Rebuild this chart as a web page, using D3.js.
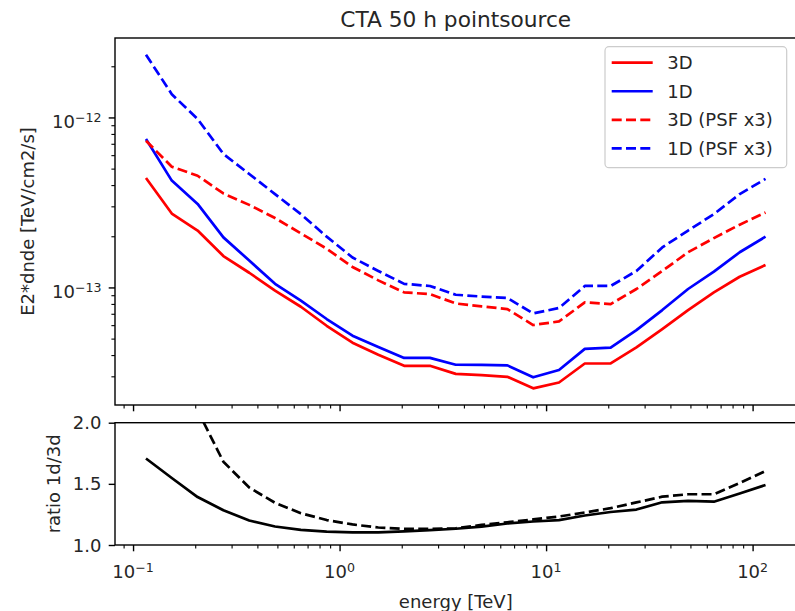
<!DOCTYPE html>
<html>
<head>
<meta charset="utf-8">
<script src="https://cdn.jsdelivr.net/npm/d3@7"></script>
<style>
  body { margin: 0; background: #fff; }
  svg { display: block; font-family: "DejaVu Sans", sans-serif; }
</style>
</head>
<body>
<svg id="chart" width="795" height="611"></svg>
<script>
// Energy bin centres [TeV]
const energy = [0.1155, 0.1540, 0.2054, 0.2738, 0.3652, 0.4870, 0.6494, 0.8660,
  1.155, 1.540, 2.054, 2.738, 3.652, 4.870, 6.494, 8.660,
  11.55, 15.40, 20.54, 27.38, 36.52, 48.70, 64.94, 86.60, 115.5];

// Sensitivity curves, E2*dnde [TeV/cm2/s]
const sens3d = [4.40e-13, 2.72e-13, 2.16e-13, 1.53e-13, 1.22e-13, 9.57e-14, 7.70e-14, 5.95e-14,
  4.73e-14, 4.02e-14, 3.46e-14, 3.46e-14, 3.10e-14, 3.05e-14, 2.98e-14, 2.55e-14,
  2.76e-14, 3.57e-14, 3.57e-14, 4.44e-14, 5.69e-14, 7.36e-14, 9.35e-14, 1.156e-13, 1.355e-13];
const sens1d = [7.46e-13, 4.25e-13, 3.10e-13, 1.97e-13, 1.44e-13, 1.05e-13, 8.36e-14, 6.52e-14,
  5.20e-14, 4.46e-14, 3.85e-14, 3.85e-14, 3.51e-14, 3.50e-14, 3.48e-14, 2.96e-14,
  3.27e-14, 4.35e-14, 4.43e-14, 5.61e-14, 7.36e-14, 9.79e-14, 1.24e-13, 1.61e-13, 1.99e-13];
const sens3dPsf = [7.30e-13, 5.13e-13, 4.54e-13, 3.57e-13, 3.06e-13, 2.56e-13, 2.08e-13, 1.69e-13,
  1.32e-13, 1.10e-13, 9.35e-14, 9.14e-14, 8.05e-14, 7.73e-14, 7.46e-14, 6.01e-14,
  6.31e-14, 8.17e-14, 7.98e-14, 9.79e-14, 1.25e-13, 1.61e-13, 1.95e-13, 2.34e-13, 2.76e-13];
const sens1dPsf = [2.34e-12, 1.37e-12, 9.79e-13, 6.10e-13, 4.65e-13, 3.54e-13, 2.70e-13, 1.99e-13,
  1.50e-13, 1.25e-13, 1.05e-13, 1.02e-13, 9.06e-14, 8.84e-14, 8.67e-14, 7.03e-14,
  7.57e-14, 1.02e-13, 1.02e-13, 1.25e-13, 1.72e-13, 2.16e-13, 2.70e-13, 3.54e-13, 4.35e-13];

// Ratio 1d/3d
const ratio = [1.707, 1.548, 1.392, 1.284, 1.200, 1.151, 1.124, 1.110,
  1.104, 1.104, 1.112, 1.122, 1.133, 1.150, 1.176, 1.192,
  1.204, 1.241, 1.270, 1.290, 1.349, 1.360, 1.354, 1.421, 1.491];
const ratioPsf = [3.20, 2.67, 2.10, 1.681, 1.470, 1.345, 1.260, 1.204,
  1.168, 1.143, 1.132, 1.131, 1.137, 1.164, 1.186, 1.209,
  1.233, 1.266, 1.301, 1.348, 1.395, 1.415, 1.415, 1.507, 1.605];

// Axis ticks
const xMajor = [0.1, 1, 10, 100];
const xMajorExp = [-1, 0, 1, 2];
const yMajor = [1e-12, 1e-13];
const yMajorExp = [-12, -13];
const ratioTicks = [1.0, 1.5, 2.0];
const ratioTickLabels = ["1.0", "1.5", "2.0"];

const titleText = "CTA 50 h pointsource";
const seriesNames = ["3D", "1D", "3D (PSF x3)", "1D (PSF x3)"];

// ---- layout ----
const svg = d3.select("#chart");
const L = 115, R = 796.5;
const top1 = 38, bot1 = 405;
const top2 = 422.7, bot2 = 545;
const FS = 18;

// log-space autoscale with 5% margins
function logPad(vals) {
  const lo = Math.log10(d3.min(vals)), hi = Math.log10(d3.max(vals));
  const m = (hi - lo) * 0.05;
  return [Math.pow(10, lo - m), Math.pow(10, hi + m)];
}

const x = d3.scaleLog().domain(logPad(energy)).range([L, R]);
const y1 = d3.scaleLog()
  .domain(logPad([].concat(sens3d, sens1d, sens3dPsf, sens1dPsf)))
  .range([bot1, top1]);
const y2 = d3.scaleLinear().domain([1, 2]).range([bot2, top2]);

// minor ticks: 2..9 of each decade inside the domain
function minorLog(scale) {
  const [a, b] = scale.domain();
  const out = [];
  for (let e = Math.floor(Math.log10(Math.min(a, b))) - 1; e <= Math.ceil(Math.log10(Math.max(a, b))); e++) {
    for (let k = 2; k <= 9; k++) {
      const v = k * Math.pow(10, e);
      if (v >= Math.min(a, b) && v <= Math.max(a, b)) out.push(v);
    }
  }
  return out;
}

const defs = svg.append("defs");
defs.append("clipPath").attr("id", "clip1").append("rect")
  .attr("x", L).attr("y", top1).attr("width", R - L).attr("height", bot1 - top1);
defs.append("clipPath").attr("id", "clip2").append("rect")
  .attr("x", L).attr("y", top2).attr("width", R - L).attr("height", bot2 - top2);

function tickAxis(g, axis) {
  g.call(axis);
  g.select(".domain").remove();
  g.selectAll(".tick line").attr("stroke", "#000");
}

// x ticks for both panels
[bot1, bot2].forEach(yy => {
  const gMin = svg.append("g").attr("transform", `translate(0,${yy})`);
  tickAxis(gMin, d3.axisBottom(x).tickValues(minorLog(x)).tickSize(3.6).tickFormat(""));
  gMin.selectAll(".tick line").attr("stroke-width", 1.1);
  const gMaj = svg.append("g").attr("transform", `translate(0,${yy})`);
  tickAxis(gMaj, d3.axisBottom(x).tickValues(xMajor).tickSize(6.3).tickFormat(""));
  gMaj.selectAll(".tick line").attr("stroke-width", 1.4);
});

// y ticks top panel
{
  const gMin = svg.append("g").attr("transform", `translate(${L},0)`);
  tickAxis(gMin, d3.axisLeft(y1).tickValues(minorLog(y1)).tickSize(3.6).tickFormat(""));
  gMin.selectAll(".tick line").attr("stroke-width", 1.1);
  const gMaj = svg.append("g").attr("transform", `translate(${L},0)`);
  tickAxis(gMaj, d3.axisLeft(y1).tickValues(yMajor).tickSize(6.3).tickFormat(""));
  gMaj.selectAll(".tick line").attr("stroke-width", 1.4);
}
// y ticks bottom panel
{
  const g = svg.append("g").attr("transform", `translate(${L},0)`);
  tickAxis(g, d3.axisLeft(y2).tickValues(ratioTicks).tickSize(6.3).tickFormat(""));
  g.selectAll(".tick line").attr("stroke-width", 1.4);
}

// power-of-ten labels
function powLabel(sel, exp) {
  sel.append("tspan").text("10");
  sel.append("tspan").attr("dy", -6.5).attr("font-size", 12.6)
    .text(exp < 0 ? "\u2212" + (-exp) : String(exp));
}

xMajor.forEach((v, i) => {
  const t = svg.append("text").attr("x", x(v)).attr("y", 578)
    .attr("text-anchor", "middle").attr("font-size", FS).attr("fill", "#262626");
  powLabel(t, xMajorExp[i]);
});
yMajor.forEach((v, i) => {
  const t = svg.append("text").attr("x", 101.5).attr("y", y1(v) + 11)
    .attr("text-anchor", "end").attr("font-size", FS).attr("fill", "#262626");
  powLabel(t, yMajorExp[i]);
});
ratioTicks.forEach((v, i) => {
  svg.append("text").attr("x", 101.5).attr("y", y2(v) + 6.5)
    .attr("text-anchor", "end").attr("font-size", FS).attr("fill", "#262626")
    .text(ratioTickLabels[i]);
});

// ---- lines ----
const lineTop = d3.line().x((d, i) => x(energy[i])).y(d => y1(d));
const lineBot = d3.line().x((d, i) => x(energy[i])).y(d => y2(d));
const DASH = "10,4.3";

const topSeries = [
  { data: sens3d, color: "#ff0000", dash: null },
  { data: sens1d, color: "#0000ff", dash: null },
  { data: sens3dPsf, color: "#ff0000", dash: DASH },
  { data: sens1dPsf, color: "#0000ff", dash: DASH }
];
const gTop = svg.append("g").attr("clip-path", "url(#clip1)");
topSeries.forEach(s => {
  gTop.append("path").attr("d", lineTop(s.data))
    .attr("fill", "none").attr("stroke", s.color).attr("stroke-width", 2.7)
    .attr("stroke-linejoin", "round")
    .attr("stroke-dasharray", s.dash);
});

const gBot = svg.append("g").attr("clip-path", "url(#clip2)");
[{ data: ratio, dash: null }, { data: ratioPsf, dash: DASH }].forEach(s => {
  gBot.append("path").attr("d", lineBot(s.data))
    .attr("fill", "none").attr("stroke", "#000").attr("stroke-width", 2.7)
    .attr("stroke-linejoin", "round")
    .attr("stroke-dasharray", s.dash);
});

// ---- spines ----
[[top1, bot1], [top2, bot2]].forEach(([t, b]) => {
  svg.append("rect").attr("x", L).attr("y", t).attr("width", R - L).attr("height", b - t)
    .attr("fill", "none").attr("stroke", "#000").attr("stroke-width", 1.4);
});

// ---- legend ----
const lg = svg.append("g");
lg.append("rect").attr("x", 605).attr("y", 46.7).attr("width", 181.7).attr("height", 121)
  .attr("rx", 4).attr("fill", "#fff").attr("fill-opacity", 0.8)
  .attr("stroke", "#cccccc").attr("stroke-width", 1.2);
topSeries.forEach((s, i) => {
  const cy = 62.7 + i * 28.55;
  lg.append("line").attr("x1", 611.7).attr("x2", 652.7).attr("y1", cy).attr("y2", cy)
    .attr("stroke", s.color).attr("stroke-width", 2.7).attr("stroke-dasharray", s.dash);
  lg.append("text").attr("x", 667.3).attr("y", cy + 6.5).attr("font-size", FS)
    .attr("fill", "#262626").text(seriesNames[i]);
});

// ---- titles ----
svg.append("text").attr("x", (L + R) / 2).attr("y", 27).attr("text-anchor", "middle")
  .attr("font-size", 21.7).attr("fill", "#262626").text(titleText);
svg.append("text").attr("transform", `translate(33.5,${(top1 + bot1) / 2}) rotate(-90)`)
  .attr("text-anchor", "middle").attr("font-size", FS).attr("fill", "#262626")
  .text("E2*dnde [TeV/cm2/s]");
svg.append("text").attr("transform", `translate(59.5,${(top2 + bot2) / 2}) rotate(-90)`)
  .attr("text-anchor", "middle").attr("font-size", FS).attr("fill", "#262626")
  .text("ratio 1d/3d");
svg.append("text").attr("x", (L + R) / 2).attr("y", 607.5).attr("text-anchor", "middle")
  .attr("font-size", FS).attr("fill", "#262626").text("energy [TeV]");
</script>
</body>
</html>
